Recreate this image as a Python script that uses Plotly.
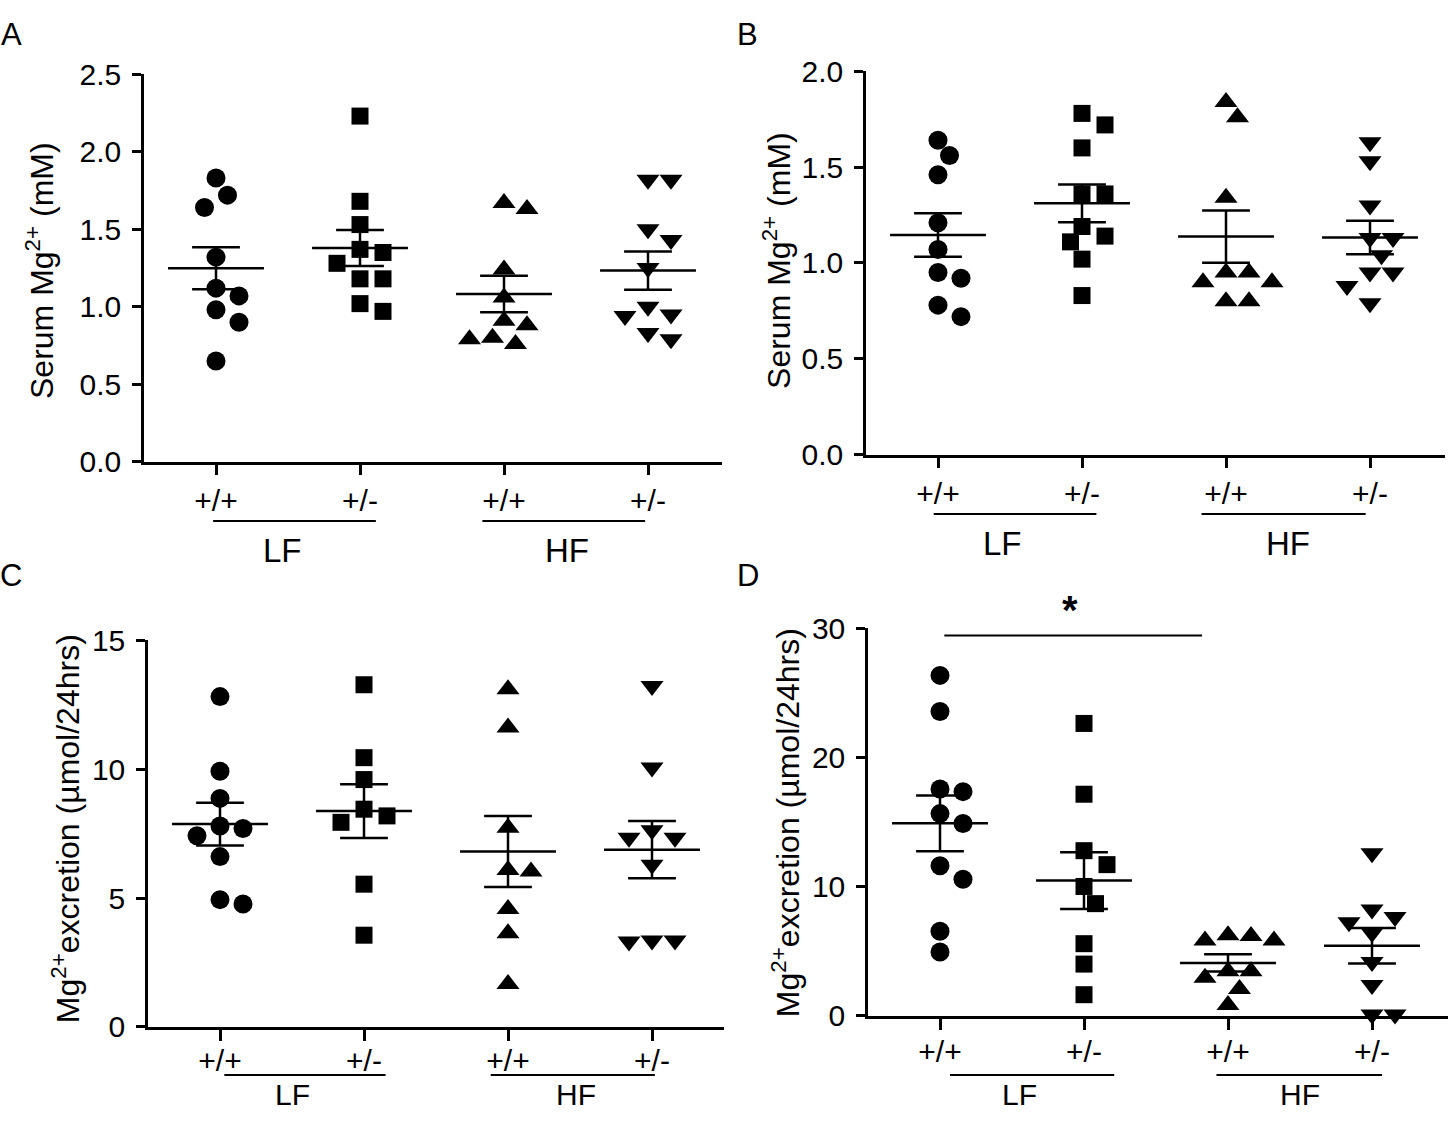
import numpy as np
import plotly.graph_objects as go

W, H = 1448, 1129

genotypes = ["+/+", "+/-", "+/+", "+/-"]
diets = ["LF", "HF"]
symbols = ["circle", "square", "triangle-up", "triangle-down"]

# Panel A: serum Mg2+ (mM)
A_LF_wt = [1.83, 1.72, 1.64, 1.32, 1.12, 1.07, 0.98, 0.90, 0.65]
A_LF_het = [2.23, 1.68, 1.53, 1.35, 1.37, 1.28, 1.18, 1.18, 0.97, 1.02]
A_HF_wt = [1.67, 1.63, 1.24, 1.06, 0.91, 0.88, 0.80, 0.79, 0.76]
A_HF_het = [1.82, 1.82, 1.50, 1.43, 1.25, 1.00, 0.95, 0.94, 0.83, 0.79]

# Panel B: serum Mg2+ (mM)
B_LF_wt = [1.64, 1.56, 1.46, 1.21, 1.07, 0.95, 0.92, 0.78, 0.72]
B_LF_het = [1.78, 1.72, 1.60, 1.36, 1.36, 1.19, 1.11, 1.14, 1.02, 0.83]
B_HF_wt = [1.84, 1.76, 1.34, 0.95, 0.95, 0.90, 0.90, 0.80, 0.80]
B_HF_het = [1.63, 1.53, 1.30, 1.13, 1.13, 1.04, 0.95, 0.95, 0.88, 0.79]

# Panel C: Mg2+ excretion (umol/24hrs)
C_LF_wt = [12.82, 9.92, 8.87, 7.70, 7.80, 7.42, 6.61, 4.77, 4.94]
C_LF_het = [13.28, 10.45, 9.60, 8.45, 8.19, 7.94, 5.54, 3.56]
C_HF_wt = [13.11, 11.62, 7.73, 6.09, 6.03, 4.58, 3.64, 1.67]
C_HF_het = [13.23, 10.07, 7.63, 7.34, 7.34, 6.29, 3.35, 3.32, 3.35]

# Panel D: Mg2+ excretion (umol/24hrs)
D_LF_wt = [26.36, 23.57, 17.56, 17.36, 15.66, 14.90, 11.63, 10.58, 6.55, 4.94]
D_LF_het = [22.64, 17.16, 12.79, 11.71, 10.02, 8.69, 5.59, 4.01, 1.64]
D_HF_wt = [6.18, 5.84, 5.84, 6.24, 3.45, 3.45, 2.95, 2.09, 0.85]
D_HF_het = [12.59, 8.24, 7.65, 7.25, 6.41, 4.18, 2.40, 0.10, 0.10]

serum_title = "Serum Mg<sup>2+</sup> (mM)"
excr_title = "Mg<sup>2+</sup>excretion (µmol/24hrs)"

# target pixel layout (as seen in the reference picture)
panels = [
    dict(letter="A", data=[A_LF_wt, A_LF_het, A_HF_wt, A_HF_het], ymax=2.5, dtick=0.5, fmt=".1f",
         title=serum_title, px=(144, 722), py=(76, 462), tpos=(40, 272), lx=11,
         under=[(-0.02, 1.11), (1.85, 2.98)], dlab=[0.46, 2.44], ugap=59, tso=0, bottom=False),
    dict(letter="B", data=[B_LF_wt, B_LF_het, B_HF_wt, B_HF_het], ymax=2.0, dtick=0.5, fmt=".1f",
         title=serum_title, px=(866, 1445), py=(73, 455), tpos=(777, 262), lx=748,
         under=[(-0.03, 1.10), (1.83, 2.97)], dlab=[0.45, 2.43], ugap=59, tso=0, bottom=False),
    dict(letter="C", data=[C_LF_wt, C_LF_het, C_HF_wt, C_HF_het], ymax=15, dtick=5, fmt="d",
         title=excr_title, px=(148, 724), py=(640, 1025), tpos=(66, 828), lx=11,
         under=[(0.03, 1.15), (1.88, 3.02)], dlab=[0.50, 2.47], ugap=48, tso=-6, bottom=True),
    dict(letter="D", data=[D_LF_wt, D_LF_het, D_HF_wt, D_HF_het], ymax=30, dtick=10, fmt="d",
         title=excr_title, px=(868, 1448), py=(628, 1014), tpos=(786, 822), lx=748,
         under=[(0.07, 1.21), (1.92, 3.07)], dlab=[0.55, 2.50], ugap=59, tso=-4, bottom=True),
]

# the photographed page comes out slightly squeezed vertically; map target px -> layout px
SY, OY = 0.967, 18.0


def cy(y):
    return (y - OY) / SY


def paper_y(y):
    return 1 - min(max(cy(y), 0), H) / H


CAT_PX = 144.0
FONT = "Liberation Sans, Arial, sans-serif"
LW = 2.5
MSIZE = {"circle": 19, "square": 17, "triangle-up": 20, "triangle-down": 20}


def swarm(vals, px_per_unit, h=11.5, d=19.0):
    vals = np.asarray(vals, dtype=float)
    order = np.argsort(-vals, kind="stable")
    cand = [0] + [s * k for k in range(1, 10) for s in (1, -1)]
    placed = []
    offs = np.zeros(len(vals))
    for i in order:
        y = vals[i] * px_per_unit
        dx = 0.0
        for k in cand:
            dx = k * h
            if all((dx - qx) ** 2 + (y - qy) ** 2 >= d * d for qx, qy in placed):
                break
        placed.append((dx, y))
        offs[i] = dx / CAT_PX
    return offs


fig = go.Figure()
annotations = []
shapes = []
layout = {}

for n, p in enumerate(panels, start=1):
    xa = "x" if n == 1 else f"x{n}"
    ya = "y" if n == 1 else f"y{n}"
    xkey = "xaxis" if n == 1 else f"xaxis{n}"
    ykey = "yaxis" if n == 1 else f"yaxis{n}"
    x0, x1 = p["px"]
    ytop, ybot = p["py"]
    px_per_unit = (ybot - ytop) / p["ymax"]

    for g, vals in enumerate(p["data"]):
        offs = swarm(vals, px_per_unit)
        fig.add_trace(go.Scatter(
            x=g + offs, y=vals, mode="markers", xaxis=xa, yaxis=ya,
            marker=dict(symbol=symbols[g], color="black", size=MSIZE[symbols[g]],
                        line=dict(width=0)),
            cliponaxis=False, showlegend=False, hoverinfo="y"))
        arr = np.asarray(vals, dtype=float)
        m = arr.mean()
        sem = arr.std(ddof=1) / np.sqrt(len(arr))
        mw, cw = 0.333, 0.166
        lx = [g - mw, g + mw, None, g, g, None, g - cw, g + cw, None, g - cw, g + cw]
        ly = [m, m, None, m - sem, m + sem, None, m + sem, m + sem, None, m - sem, m - sem]
        fig.add_trace(go.Scatter(
            x=lx, y=ly, mode="lines", xaxis=xa, yaxis=ya,
            line=dict(color="black", width=LW), cliponaxis=False,
            showlegend=False, hoverinfo="skip"))

    xr = [-0.5, -0.5 + (x1 - x0) / CAT_PX]
    layout[xkey] = dict(
        domain=[x0 / W, x1 / W], range=xr, anchor=ya,
        tickmode="array", tickvals=[0, 1, 2, 3], ticktext=genotypes,
        ticks="outside", ticklen=11, tickwidth=LW, tickcolor="black",
        showline=True, linecolor="black", linewidth=LW,
        showgrid=False, zeroline=False, ticklabelstandoff=p["tso"],
        tickfont=dict(family=FONT, size=30, color="black"), fixedrange=True)
    layout[ykey] = dict(
        domain=[paper_y(ybot), paper_y(ytop)], range=[0, p["ymax"]], anchor=xa,
        tickmode="linear", tick0=0, dtick=p["dtick"], tickformat=p["fmt"],
        ticks="outside", ticklen=9, tickwidth=LW, tickcolor="black",
        showline=True, linecolor="black", linewidth=LW,
        showgrid=False, zeroline=False, ticklabelstandoff=5,
        tickfont=dict(family=FONT, size=30, color="black"), fixedrange=True)

    # group underline + diet label
    uy = paper_y(ybot + p["ugap"])
    for (ua, ub), lab, lxx in zip(p["under"], diets, p["dlab"]):
        shapes.append(dict(type="line", xref=xa, yref="paper", x0=ua, x1=ub, y0=uy, y1=uy,
                           line=dict(color="black", width=2)))
        if p["bottom"]:
            annotations.append(dict(text=lab, xref=xa, yref="paper", x=lxx, y=0.0,
                                    showarrow=False, xanchor="center", yanchor="bottom",
                                    borderpad=0,
                                    font=dict(family=FONT, size=30, color="black")))
        else:
            annotations.append(dict(text=lab, xref=xa, yref="paper", x=lxx,
                                    y=paper_y(ybot + 88),
                                    showarrow=False, xanchor="center", yanchor="middle",
                                    font=dict(family=FONT, size=33, color="black")))
    # axis title
    annotations.append(dict(text=p["title"], xref="paper", yref="paper",
                            x=p["tpos"][0] / W, y=paper_y(p["tpos"][1]), textangle=-90,
                            showarrow=False, xanchor="center", yanchor="middle",
                            font=dict(family=FONT, size=32, color="black")))
    # panel letter (top row sits at the very top edge)
    if not p["bottom"]:
        annotations.append(dict(text=p["letter"], xref="paper", yref="paper",
                                x=p["lx"] / W, y=1.0, showarrow=False,
                                xanchor="center", yanchor="top", borderpad=0,
                                font=dict(family=FONT, size=31, color="black")))
    else:
        annotations.append(dict(text=p["letter"], xref="paper", yref="paper",
                                x=p["lx"] / W, y=paper_y(575), showarrow=False,
                                xanchor="center", yanchor="middle",
                                font=dict(family=FONT, size=31, color="black")))

# significance bar in D
shapes.append(dict(type="line", xref="x4", yref="paper", x0=0.03, x1=1.82,
                   y0=paper_y(635), y1=paper_y(635), line=dict(color="black", width=2)))
annotations.append(dict(text="<b>*</b>", xref="x4", yref="paper", x=0.90, y=paper_y(610),
                        showarrow=False, xanchor="center", yanchor="middle",
                        font=dict(family=FONT, size=40, color="black")))

fig.update_layout(
    width=W, height=H, margin=dict(l=0, r=0, t=0, b=0),
    paper_bgcolor="white", plot_bgcolor="white",
    font=dict(family=FONT, color="black"),
    annotations=annotations, shapes=shapes, showlegend=False,
    **layout)

fig.write_html("out.html", post_script="document.body.style.margin='0';",
               config={"displayModeBar": False})
